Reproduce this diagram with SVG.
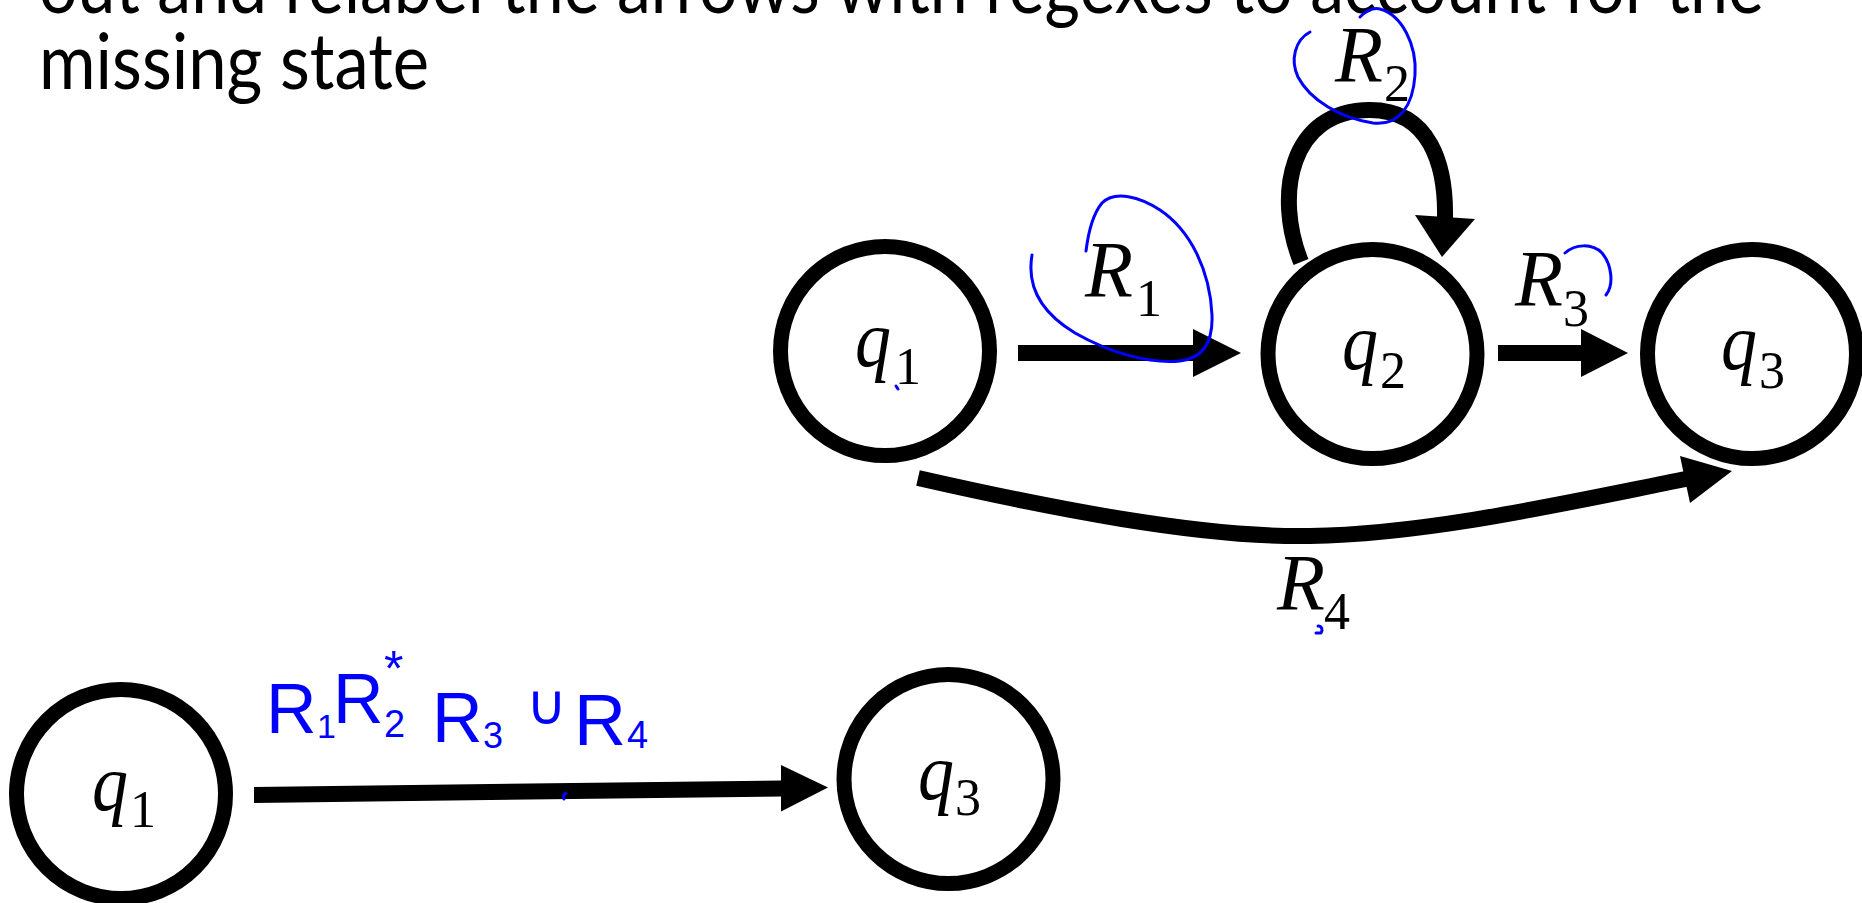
<svg xmlns="http://www.w3.org/2000/svg" width="1862" height="903" viewBox="0 0 1862 903">
<style>
.title{font-family:Lato,"Open Sans","Liberation Sans",sans-serif;font-size:78px;fill:#000}
.st circle{fill:#fff;stroke:#000;stroke-width:15}
.v{font-family:"Liberation Serif","DejaVu Serif",serif;font-style:italic;font-size:80px;fill:#000}
.s{font-family:"Liberation Serif","DejaVu Serif",serif;font-size:52px;fill:#000}
.edge{fill:none;stroke:#000;stroke-width:16}
.head{fill:#000;stroke:none}
.ink{fill:none;stroke:#0000ff;stroke-width:3;stroke-linecap:round;stroke-linejoin:round}
.hw{font-family:"Liberation Sans","DejaVu Sans",sans-serif;fill:#0000ff}
</style>
<rect width="1862" height="903" fill="#fff"/>
<g id="title">
<text class="title" x="39" y="13" textLength="1725" lengthAdjust="spacingAndGlyphs">out and relabel the arrows with regexes to account for the</text>
<text class="title" x="39" y="89" textLength="390" lengthAdjust="spacingAndGlyphs">missing state</text>
</g>
<g id="connectors">
<g id="e-q1-q2"><rect class="head" x="1018" y="345" width="177" height="16"/><polygon class="head" points="1193,329 1241,353 1193,377"/></g>
<g id="e-q2-q3"><rect class="head" x="1498" y="345" width="85" height="16"/><polygon class="head" points="1581,329 1628,353 1581,377"/></g>
<g id="e-q2-loop"><path class="edge" stroke-width="18" d="M1301,262 C1274,195 1290,110 1370,110 C1430,110 1446,165 1445,218"/><polygon class="head" points="1415,215 1475,219 1442,257"/></g>
<g id="e-q1-q3"><path class="edge" d="M918,478 C1050,508 1200,538 1310,536 C1430,534 1570,502 1686,479"/><polygon class="head" points="1680,456 1732,471 1690,503"/></g>
<g id="e-bq1-bq3"><polygon class="head" points="254,787 782,780.5 782,796.5 254,803"/><polygon class="head" points="781,765 828,787.5 781,811.5"/></g>
</g>
<g id="q1" class="st"><circle cx="885" cy="351" r="104.5"/><text class="v" x="855" y="366" textLength="36" lengthAdjust="spacingAndGlyphs">q</text><text class="s" x="895" y="384">1</text></g>
<g id="q2" class="st"><circle cx="1372.5" cy="354" r="104.5"/><text class="v" x="1342" y="369" textLength="36" lengthAdjust="spacingAndGlyphs">q</text><text class="s" x="1380" y="388">2</text></g>
<g id="q3" class="st"><circle cx="1752" cy="354" r="104.5"/><text class="v" x="1721" y="369" textLength="36" lengthAdjust="spacingAndGlyphs">q</text><text class="s" x="1759" y="388">3</text></g>
<g id="bq1" class="st"><circle cx="121" cy="794" r="104.5"/><text class="v" x="92" y="810" textLength="36" lengthAdjust="spacingAndGlyphs">q</text><text class="s" x="130" y="827">1</text></g>
<g id="bq3" class="st"><circle cx="948.5" cy="779" r="104.5"/><text class="v" x="918" y="799" textLength="36" lengthAdjust="spacingAndGlyphs">q</text><text class="s" x="955" y="815">3</text></g>
<g id="labels">
<text class="v" x="1085" y="297" textLength="48" lengthAdjust="spacingAndGlyphs">R</text><text class="s" x="1136" y="316">1</text>
<text class="v" x="1335" y="82" textLength="48" lengthAdjust="spacingAndGlyphs">R</text><text class="s" x="1384" y="101">2</text>
<text class="v" x="1515" y="306" textLength="48" lengthAdjust="spacingAndGlyphs">R</text><text class="s" x="1563" y="326">3</text>
<text class="v" x="1277" y="610" textLength="48" lengthAdjust="spacingAndGlyphs">R</text><text class="s" x="1324" y="629">4</text>
</g>
<g id="annotations">
<path class="ink" d="M1032,255 C1026,290 1045,315 1075,333 C1110,353 1150,364 1180,361 C1205,358 1213,340 1212,315 C1210,270 1190,230 1160,210 C1140,197 1115,190 1102,203 C1092,215 1088,235 1086,251"/>
<path class="ink" d="M1310,32 C1295,40 1290,60 1298,77 C1310,100 1340,118 1373,123 C1400,126 1413,105 1415,75 C1417,45 1402,15 1380,9 C1372,7 1365,12 1360,17"/>
<path class="ink" d="M1565,253 C1575,244 1592,243 1602,253 C1612,265 1614,285 1606,295"/>
<path class="ink" d="M896,386 L898,389"/>
<path class="ink" d="M1318,626 C1322,626 1323,630 1321,633 L1316,633"/>
<path class="ink" d="M566,793 C563,795 563,797 564,799"/>
<text id="handwritten" class="hw"><tspan x="266" y="733" font-size="70">R</tspan><tspan x="317" y="738" font-size="34">1</tspan><tspan x="333" y="723" font-size="70">R</tspan><tspan x="384" y="686" font-size="50">*</tspan><tspan x="384" y="737" font-size="38">2</tspan><tspan x="432" y="742" font-size="70">R</tspan><tspan x="483" y="748" font-size="36">3</tspan><tspan x="526" y="724" font-size="56">∪</tspan><tspan x="574" y="745" font-size="72">R</tspan><tspan x="627" y="748" font-size="38">4</tspan></text>
</g>
</svg>
